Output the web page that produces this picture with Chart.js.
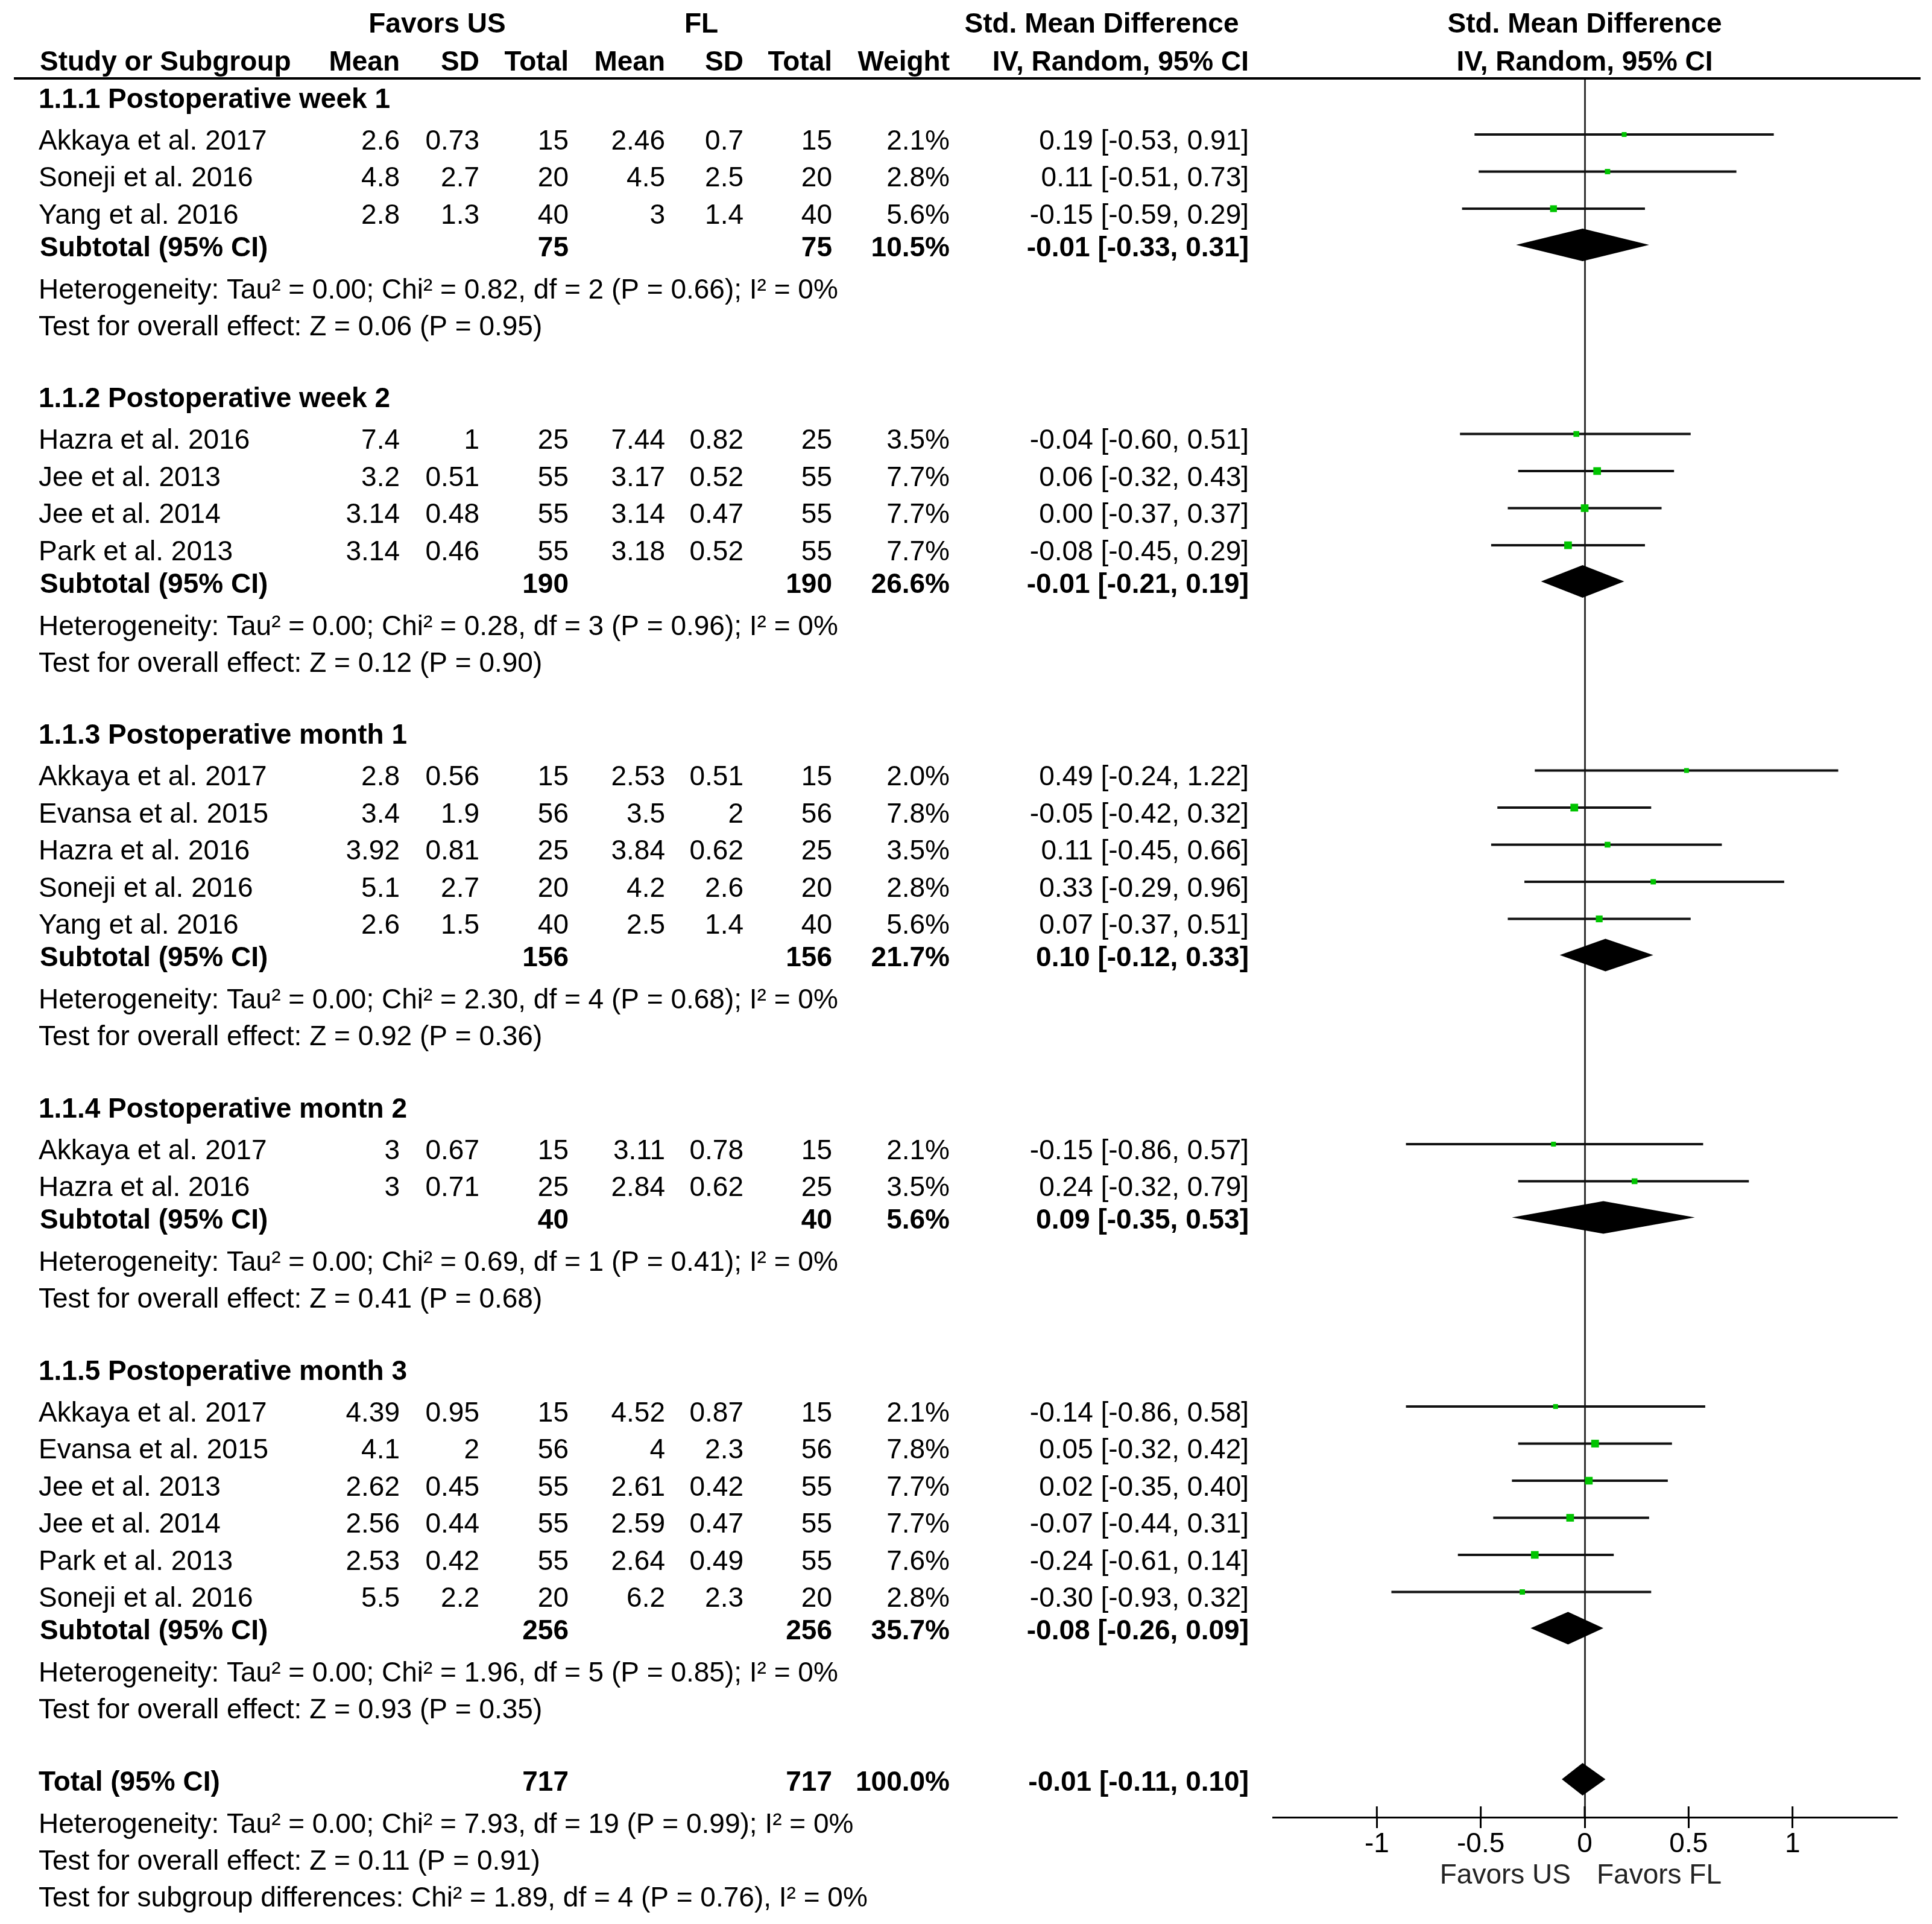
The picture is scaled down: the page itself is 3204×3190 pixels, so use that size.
<!DOCTYPE html>
<html>
<head>
<meta charset="utf-8">
<script src="https://cdn.jsdelivr.net/npm/chart.js@4.4.1/dist/chart.umd.min.js"></script>
<style>
    html, body { margin: 0; padding: 0; background: #fff; }
    canvas { display: block; }
</style>
</head>
<body>
<canvas id="forest" width="3204" height="3190" style="width:3204px;height:3190px"></canvas>
<script>
// 데이터 — 하위그룹
const groupTitles = [
    '1.1.1 Postoperative week 1',
    '1.1.2 Postoperative week 2',
    '1.1.3 Postoperative month 1',
    '1.1.4 Postoperative montn 2',
    '1.1.5 Postoperative month 3'
];

// 데이터 — 개별 연구
const studyGroup = [0, 0, 0, 1, 1, 1, 1, 2, 2, 2, 2, 2, 3, 3, 4, 4, 4, 4, 4, 4];
const studyNames = [
    'Akkaya et al. 2017', 'Soneji et al. 2016', 'Yang et al. 2016',
    'Hazra et al. 2016', 'Jee et al. 2013', 'Jee et al. 2014', 'Park et al. 2013',
    'Akkaya et al. 2017', 'Evansa et al. 2015', 'Hazra et al. 2016', 'Soneji et al. 2016', 'Yang et al. 2016',
    'Akkaya et al. 2017', 'Hazra et al. 2016',
    'Akkaya et al. 2017', 'Evansa et al. 2015', 'Jee et al. 2013', 'Jee et al. 2014', 'Park et al. 2013', 'Soneji et al. 2016'
];
const usMean = [2.6, 4.8, 2.8, 7.4, 3.2, 3.14, 3.14, 2.8, 3.4, 3.92, 5.1, 2.6, 3, 3, 4.39, 4.1, 2.62, 2.56, 2.53, 5.5];
const usSD = [0.73, 2.7, 1.3, 1, 0.51, 0.48, 0.46, 0.56, 1.9, 0.81, 2.7, 1.5, 0.67, 0.71, 0.95, 2, 0.45, 0.44, 0.42, 2.2];
const usTotal = [15, 20, 40, 25, 55, 55, 55, 15, 56, 25, 20, 40, 15, 25, 15, 56, 55, 55, 55, 20];
const flMean = [2.46, 4.5, 3, 7.44, 3.17, 3.14, 3.18, 2.53, 3.5, 3.84, 4.2, 2.5, 3.11, 2.84, 4.52, 4, 2.61, 2.59, 2.64, 6.2];
const flSD = [0.7, 2.5, 1.4, 0.82, 0.52, 0.47, 0.52, 0.51, 2, 0.62, 2.6, 1.4, 0.78, 0.62, 0.87, 2.3, 0.42, 0.47, 0.49, 2.3];
const flTotal = [15, 20, 40, 25, 55, 55, 55, 15, 56, 25, 20, 40, 15, 25, 15, 56, 55, 55, 55, 20];
const studyWeight = [2.1, 2.8, 5.6, 3.5, 7.7, 7.7, 7.7, 2.0, 7.8, 3.5, 2.8, 5.6, 2.1, 3.5, 2.1, 7.8, 7.7, 7.7, 7.6, 2.8];
const studySmd = [0.19, 0.11, -0.15, -0.04, 0.06, 0.00, -0.08, 0.49, -0.05, 0.11, 0.33, 0.07, -0.15, 0.24, -0.14, 0.05, 0.02, -0.07, -0.24, -0.30];
const studyLow = [-0.53, -0.51, -0.59, -0.60, -0.32, -0.37, -0.45, -0.24, -0.42, -0.45, -0.29, -0.37, -0.86, -0.32, -0.86, -0.32, -0.35, -0.44, -0.61, -0.93];
const studyHigh = [0.91, 0.73, 0.29, 0.51, 0.43, 0.37, 0.29, 1.22, 0.32, 0.66, 0.96, 0.51, 0.57, 0.79, 0.58, 0.42, 0.40, 0.31, 0.14, 0.32];

// 데이터 — 소계
const subTotalN = [75, 190, 156, 40, 256];
const subWeight = [10.5, 26.6, 21.7, 5.6, 35.7];
const subSmd = [-0.01, -0.01, 0.10, 0.09, -0.08];
const subLow = [-0.33, -0.21, -0.12, -0.35, -0.26];
const subHigh = [0.31, 0.19, 0.33, 0.53, 0.09];
const hetChi = [0.82, 0.28, 2.30, 0.69, 1.96];
const hetDf = [2, 3, 4, 1, 5];
const hetP = [0.66, 0.96, 0.68, 0.41, 0.85];
const effectZ = [0.06, 0.12, 0.92, 0.41, 0.93];
const effectP = [0.95, 0.90, 0.36, 0.68, 0.35];

// 데이터 — 전체
const totalN = [717, 717];
const totalEffect = [-0.01, -0.11, 0.10];   // SMD, low, high
const totalHet = [7.93, 19, 0.99];          // Chi², df, P
const totalZ = [0.11, 0.91];                // Z, P
const subgroupDiff = [1.89, 4, 0.76];       // Chi², df, P

const xTicks = [-1, -0.5, 0, 0.5, 1];

// 레이아웃
const FONT = "'Liberation Sans', Arial, sans-serif";
const FS = 46;
const TEXT_DY = 4;
const ROW_PX = 61.5;
const GAP = { header: 69 / ROW_PX, study: 1, subtotal: 54 / ROW_PX, het: 70 / ROW_PX, test: 61 / ROW_PX, group: 119.5 / ROW_PX };
const STUDY_LIFT = 8 / ROW_PX;
const DIAMOND_LIFT = 2 / ROW_PX;
const DIAMOND_HALF = 27 / ROW_PX;
const PLOT_TOP = 130, PLOT_BOTTOM = 3013, FIRST_ROW = 162;

const f2 = v => v.toFixed(2);
const ciText = (e, l, h) => `${f2(e)} [${f2(l)}, ${f2(h)}]`;
const hetText = (chi, df, p) => `Heterogeneity: Tau² = 0.00; Chi² = ${f2(chi)}, df = ${df} (P = ${f2(p)}); I² = 0%`;
const zText = (z, p) => `Test for overall effect: Z = ${f2(z)} (P = ${f2(p)})`;

// 행 위치 계산
const rows = [];
const studyPos = [];
const subPos = [];
let pos = 0;
groupTitles.forEach((title, g) => {
    rows.push({ kind: 'group', pos, text: title });
    pos += GAP.header;
    let first = true;
    studyNames.forEach((name, i) => {
        if (studyGroup[i] !== g) return;
        if (!first) pos += GAP.study;
        first = false;
        studyPos[i] = pos;
        rows.push({ kind: 'study', pos, i });
    });
    pos += GAP.subtotal;
    subPos[g] = pos;
    rows.push({ kind: 'subtotal', pos, g });
    pos += GAP.het;
    rows.push({ kind: 'note', pos, text: hetText(hetChi[g], hetDf[g], hetP[g]) });
    pos += GAP.test;
    rows.push({ kind: 'note', pos, text: zText(effectZ[g], effectP[g]) });
    pos += GAP.group;
});
const totalPos = pos;
rows.push({ kind: 'total', pos });
pos += GAP.het;
rows.push({ kind: 'note', pos, text: hetText(totalHet[0], totalHet[1], totalHet[2]) });
pos += GAP.test;
rows.push({ kind: 'note', pos, text: zText(totalZ[0], totalZ[1]) });
pos += GAP.study;
rows.push({ kind: 'note', pos, text: `Test for subgroup differences: Chi² = ${f2(subgroupDiff[0])}, df = ${subgroupDiff[1]} (P = ${f2(subgroupDiff[2])}), I² = 0%` });

// 열 위치 (오른쪽 정렬 기준)
const COL = { name: 64, usMean: 663, usSD: 795, usTotal: 943, flMean: 1103, flSD: 1233, flTotal: 1380, weight: 1575, ci: 2071 };

function txt(ctx, s, x, y, align, bold, color) {
    ctx.font = `${bold ? 'bold ' : ''}${FS}px ${FONT}`;
    ctx.textAlign = align || 'left';
    ctx.textBaseline = 'middle';
    ctx.fillStyle = color || '#000';
    ctx.fillText(s, x, y + TEXT_DY);
}

// 표 텍스트 플러그인
const tablePlugin = {
    id: 'forestTable',
    afterDraw(chart) {
        const ctx = chart.ctx;
        const y = chart.scales.y;
        const x = chart.scales.x;
        ctx.save();

        // 머리글
        txt(ctx, 'Favors US', 725, 37, 'center', true);
        txt(ctx, 'FL', 1163, 37, 'center', true);
        txt(ctx, 'Std. Mean Difference', 1827, 37, 'center', true);
        txt(ctx, 'Std. Mean Difference', x.getPixelForValue(0), 37, 'center', true);
        txt(ctx, 'Study or Subgroup', 66, 100, 'left', true);
        txt(ctx, 'Mean', COL.usMean, 100, 'right', true);
        txt(ctx, 'SD', COL.usSD, 100, 'right', true);
        txt(ctx, 'Total', COL.usTotal, 100, 'right', true);
        txt(ctx, 'Mean', COL.flMean, 100, 'right', true);
        txt(ctx, 'SD', COL.flSD, 100, 'right', true);
        txt(ctx, 'Total', COL.flTotal, 100, 'right', true);
        txt(ctx, 'Weight', COL.weight, 100, 'right', true);
        txt(ctx, 'IV, Random, 95% CI', COL.ci, 100, 'right', true);
        txt(ctx, 'IV, Random, 95% CI', x.getPixelForValue(0), 100, 'center', true);

        ctx.strokeStyle = '#000';
        ctx.lineWidth = 4;
        ctx.beginPath();
        ctx.moveTo(23, PLOT_TOP);
        ctx.lineTo(3185, PLOT_TOP);
        ctx.stroke();

        rows.forEach(r => {
            const py = y.getPixelForValue(r.pos);
            if (r.kind === 'group') {
                txt(ctx, r.text, COL.name, py, 'left', true);
            } else if (r.kind === 'note') {
                txt(ctx, r.text, COL.name, py, 'left', false);
            } else if (r.kind === 'study') {
                const i = r.i;
                txt(ctx, studyNames[i], COL.name, py, 'left', false);
                txt(ctx, String(usMean[i]), COL.usMean, py, 'right');
                txt(ctx, String(usSD[i]), COL.usSD, py, 'right');
                txt(ctx, String(usTotal[i]), COL.usTotal, py, 'right');
                txt(ctx, String(flMean[i]), COL.flMean, py, 'right');
                txt(ctx, String(flSD[i]), COL.flSD, py, 'right');
                txt(ctx, String(flTotal[i]), COL.flTotal, py, 'right');
                txt(ctx, studyWeight[i].toFixed(1) + '%', COL.weight, py, 'right');
                txt(ctx, ciText(studySmd[i], studyLow[i], studyHigh[i]), COL.ci, py, 'right');
            } else if (r.kind === 'subtotal') {
                const g = r.g;
                txt(ctx, 'Subtotal (95% CI)', COL.name + 2, py, 'left', true);
                txt(ctx, String(subTotalN[g]), COL.usTotal, py, 'right', true);
                txt(ctx, String(subTotalN[g]), COL.flTotal, py, 'right', true);
                txt(ctx, subWeight[g].toFixed(1) + '%', COL.weight, py, 'right', true);
                txt(ctx, ciText(subSmd[g], subLow[g], subHigh[g]), COL.ci, py, 'right', true);
            } else if (r.kind === 'total') {
                txt(ctx, 'Total (95% CI)', COL.name, py, 'left', true);
                txt(ctx, String(totalN[0]), COL.usTotal, py, 'right', true);
                txt(ctx, String(totalN[1]), COL.flTotal, py, 'right', true);
                txt(ctx, '100.0%', COL.weight, py, 'right', true);
                txt(ctx, ciText(totalEffect[0], totalEffect[1], totalEffect[2]), COL.ci, py, 'right', true);
            }
        });

        // 축 눈금 위쪽 부분
        ctx.strokeStyle = '#000';
        ctx.lineWidth = 3;
        xTicks.forEach(v => {
            const px = x.getPixelForValue(v);
            ctx.beginPath();
            ctx.moveTo(px, chart.chartArea.bottom - 18);
            ctx.lineTo(px, chart.chartArea.bottom);
            ctx.stroke();
        });

        const zero = x.getPixelForValue(0);
        txt(ctx, 'Favors US', zero - 23, 3106, 'right', false, '#222');
        txt(ctx, 'Favors FL', zero + 20, 3106, 'left', false, '#222');
        ctx.restore();
    }
};

// 신뢰구간 선
const ciLine = [];
studySmd.forEach((v, i) => {
    const py = studyPos[i] - STUDY_LIFT;
    ciLine.push({ x: studyLow[i], y: py }, { x: studyHigh[i], y: py }, { x: NaN, y: NaN });
});

// 다이아몬드
function diamond(est, lo, hi, p) {
    const c = p - DIAMOND_LIFT;
    return [
        { x: lo, y: c }, { x: est, y: c - DIAMOND_HALF }, { x: hi, y: c },
        { x: est, y: c + DIAMOND_HALF }, { x: lo, y: c }
    ];
}
const diamondSets = subSmd.map((v, g) => diamond(v, subLow[g], subHigh[g], subPos[g]));
diamondSets.push(diamond(totalEffect[0], totalEffect[1], totalEffect[2], totalPos));

const datasets = [
    {
        label: 'SMD',
        data: studySmd.map((v, i) => ({ x: v, y: studyPos[i] - STUDY_LIFT })),
        pointStyle: 'rect',
        pointRadius: studyWeight.map(w => (3 + 3.5 * Math.sqrt(w)) / Math.SQRT2),
        backgroundColor: '#00c400',
        borderWidth: 0,
        order: 0
    },
    {
        label: 'CI',
        data: ciLine,
        showLine: true,
        spanGaps: false,
        pointRadius: 0,
        borderColor: '#111',
        borderWidth: 4,
        order: 2
    }
].concat(diamondSets.map(d => ({
    label: 'pooled',
    data: d,
    showLine: true,
    fill: 'shape',
    backgroundColor: '#000',
    borderColor: '#000',
    borderWidth: 0,
    pointRadius: 0,
    tension: 0,
    order: 1
})));

new Chart(document.getElementById('forest'), {
    type: 'scatter',
    data: { datasets },
    options: {
        responsive: false,
        devicePixelRatio: 1,
        animation: false,
        events: [],
        layout: { padding: { left: 2111, right: 59, top: PLOT_TOP, bottom: 77 } },
        plugins: { legend: { display: false }, tooltip: { enabled: false } },
        scales: {
            x: {
                type: 'linear',
                min: -1.5,
                max: 1.5,
                afterBuildTicks: s => { s.ticks = xTicks.map(v => ({ value: v })); },
                afterFit: s => { s.height = 100; },
                ticks: {
                    callback: v => String(v),
                    font: { family: FONT, size: FS },
                    color: '#000',
                    padding: 0,
                    maxRotation: 0,
                    autoSkip: false
                },
                grid: {
                    color: c => (c.tick && c.tick.value === 0) ? '#333' : 'rgba(0,0,0,0)',
                    lineWidth: 3,
                    tickLength: 18,
                    tickColor: '#000',
                    tickWidth: 3
                },
                border: { color: '#000', width: 3 }
            },
            y: {
                type: 'linear',
                display: false,
                reverse: true,
                min: (PLOT_TOP - FIRST_ROW) / ROW_PX,
                max: (PLOT_BOTTOM - FIRST_ROW) / ROW_PX
            }
        }
    },
    plugins: [tablePlugin]
});
</script>
</body>
</html>
